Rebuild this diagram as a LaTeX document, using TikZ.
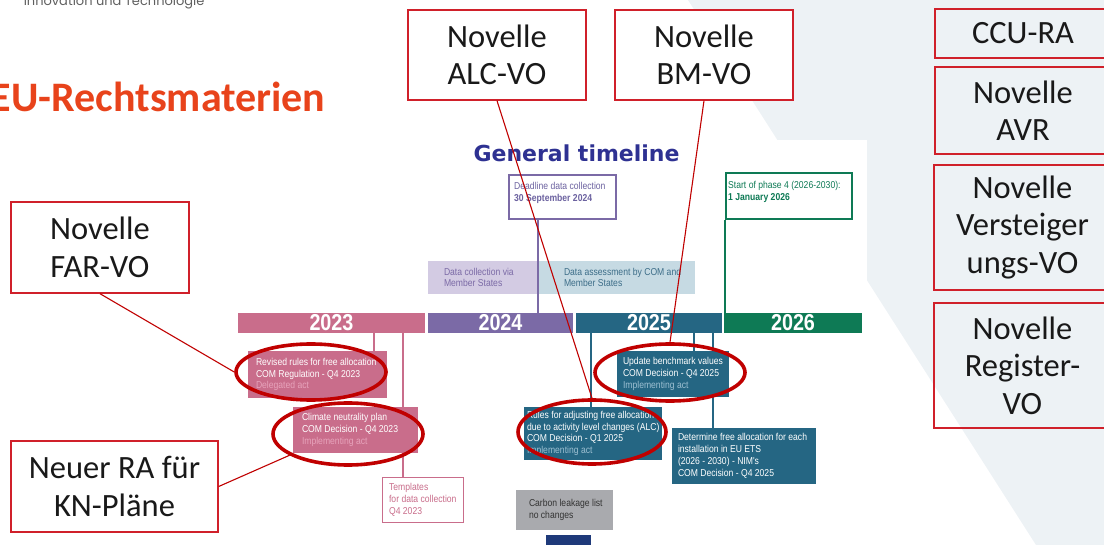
\documentclass[tikz,border=0pt]{standalone}
\usepackage{fontspec}
\setmainfont{Carlito}
\newfontfamily\tlfont[FakeStretch=0.86]{Liberation Sans}
\newfontfamily\headfont{DejaVu Sans}
\newfontfamily\topfont{Poppins}
\usepackage{xcolor}
\usetikzlibrary{shapes.geometric}

\definecolor{ringred}{HTML}{C00000}
\definecolor{boxred}{HTML}{D0202A}
\definecolor{titlered}{HTML}{E8431B}
\definecolor{topgrey}{HTML}{5F5F5F}
\definecolor{bgpale}{HTML}{EDF2F5}
\definecolor{tlblue}{HTML}{2E3192}
\definecolor{yr23}{HTML}{C96D8B}
\definecolor{yr24}{HTML}{7B6AA6}
\definecolor{yr24dark}{HTML}{6C62A0}
\definecolor{yr25}{HTML}{256683}
\definecolor{yr26}{HTML}{0E7A55}
\definecolor{lav}{HTML}{D3CBE3}
\definecolor{skyg}{HTML}{C6DAE3}
\definecolor{asstext}{HTML}{3C6D88}
\definecolor{leakgrey}{HTML}{A9AAAE}
\definecolor{navy}{HTML}{1F3A7A}
\definecolor{pinklt}{HTML}{E7A3BB}
\definecolor{bluelt}{HTML}{9DC0D2}

\begin{document}
\begin{tikzpicture}[x=1pt,y=-1pt,
  lawbox/.style={draw=boxred, line width=1.4pt, fill=white, align=center, inner sep=0pt,
    font=\fontsize{32.5}{37.5}\selectfont, text=black!90},
  sidebox/.style={lawbox, fill=none},
  redring/.style={ellipse, draw=ringred, line width=3.6pt, inner sep=0pt},
  redlink/.style={draw=ringred, line width=1.1pt},
  yearbar/.style={minimum height=20, inner sep=0pt, text=white,
    font=\tlfont\bfseries\fontsize{23}{23}\selectfont},
  tlbox/.style={inner sep=0pt},
  tltext/.style={inner sep=0pt, align=left, font=\tlfont\fontsize{10}{11.8}\selectfont},
  tlline/.style={line width=2pt}]

  \useasboundingbox (0,0) rectangle (1104,545);
  % slide background and the pasted timeline
  \fill[bgpale] (688,0) -- (1104,0) -- (1104,545) -- (1036,545) -- cycle;
  \fill[white] (230,140) rectangle (867,545);

  \node[anchor=base east, font=\topfont\fontsize{13}{13}\selectfont, text=topgrey] (ministry) at (208,6) {Innovation und Technologie};
  \node[anchor=base east, font=\bfseries\fontsize{42}{42}\selectfont, text=titlered] (heading) at (329,112) {EU-Rechtsmaterien};
  \node[anchor=base west, font=\headfont\bfseries\fontsize{22}{22}\selectfont, text=tlblue] (tltitle) at (470,162) {General timeline};

  % years
  \node[yearbar, fill=yr23, minimum width=187] (bar23) at (331.5,323) {2023};
  \node[yearbar, fill=yr24, minimum width=145] (bar24) at (500.5,323) {2024};
  \node[yearbar, fill=yr25, minimum width=146] (bar25) at (649,323) {2025};
  \node[yearbar, fill=yr26, minimum width=138] (bar26) at (793,323) {2026};

  % above the bars
  \node[tlbox, fill=lav, minimum width=111, minimum height=33] (collect) at (483.5,277.5) {};
  \node[tltext, text=yr24, anchor=west, xshift=16] (collecttxt) at (collect.west) {Data collection via\\Member States};
  \node[tlbox, fill=skyg, minimum width=156, minimum height=33] (assess) at (617,277.5) {};
  \node[tltext, text=asstext, anchor=west, xshift=25] (assesstxt) at (assess.west) {Data assessment by COM and\\Member States};

  \node[tlbox, draw=yr24, line width=2pt, fill=white, minimum width=107, minimum height=44] (deadline) at (562.5,197) {};
  \node[tltext, text=yr24dark, anchor=north west, xshift=6, yshift=-8] (deadlinetxt) at (deadline.north west) {Deadline data collection\\\textbf{30 September 2024}};
  \node[tlbox, draw=yr26, line width=2pt, fill=white, minimum width=126, minimum height=46] (phase) at (789,196) {};
  \node[tltext, text=yr26, anchor=north west, xshift=3, yshift=-9] (phasetxt) at (phase.north west) {Start of phase 4 (2026-2030):\\\textbf{1 January 2026}};

  \draw[tlline, yr24] (deadline.south west) ++(30,0) coordinate (dl) -- (dl |- bar24.north);
  \draw[tlline, yr26] (phase.south west) -- (phase.south west |- bar26.north);

  % below the bars
  \node[tlbox, fill=yr23, minimum width=139, minimum height=47] (revised) at (317.5,374.5) {};
  \node[tlbox, fill=yr23, minimum width=125, minimum height=46] (climate) at (355.5,430) {};
  \node[tlbox, draw=yr23, line width=1.2pt, fill=white, minimum width=81, minimum height=45] (templ) at (423,500) {};
  \node[tlbox, fill=yr25, minimum width=112, minimum height=46] (update) at (673,374) {};
  \node[tlbox, fill=yr25, minimum width=138, minimum height=53] (alc) at (593,433.5) {};
  \node[tlbox, fill=yr25, minimum width=144, minimum height=56] (determine) at (744,456) {};
  \node[tlbox, fill=leakgrey, minimum width=97, minimum height=40] (leak) at (564.5,510) {};
  \node[tlbox, fill=navy, minimum width=45, minimum height=20, anchor=north] (navyblock) at (568.5,535) {};

  \draw[tlline, yr23] (revised.north east) ++(-13,0) coordinate (r1) -- (r1 |- bar23.south);
  \draw[tlline, yr23] (templ.north west) ++(21,0) coordinate (t1) -- (t1 |- bar23.south);
  \draw[tlline, yr25] (alc.north west) ++(67,0) coordinate (a1) -- (a1 |- bar25.south);
  \draw[tlline, yr25] (update.north west) ++(77,0) coordinate (u1) -- (u1 |- bar25.south);
  \draw[tlline, yr25] (determine.north west) ++(41,0) coordinate (d2) -- (d2 |- bar25.south);

  \node[tltext, text=white, anchor=west, xshift=8] (revisedtxt) at (revised.west) {Revised rules for free allocation\\COM Regulation - Q4 2023\\\textcolor{pinklt}{Delegated act}};
  \node[tltext, text=white, anchor=west, xshift=9] (climatetxt) at (climate.west) {Climate neutrality plan\\COM Decision - Q4 2023\\\textcolor{pinklt}{Implementing act}};
  \node[tltext, text=yr23, anchor=west, xshift=7] (templtxt) at (templ.west) {Templates\\for data collection\\Q4 2023};
  \node[tltext, text=white, anchor=west, xshift=6] (updatetxt) at (update.west) {Update benchmark values\\COM Decision - Q4 2025\\\textcolor{bluelt}{Implementing act}};
  \node[tltext, text=white, anchor=west, xshift=3] (alctxt) at (alc.west) {Rules for adjusting free allocation\\due to activity level changes (ALC)\\COM Decision - Q1 2025\\\textcolor{bluelt}{Implementing act}};
  \node[tltext, text=white, anchor=west, xshift=6] (determinetxt) at (determine.west) {Determine free allocation for each\\installation in EU ETS\\(2026 - 2030) - NIM's\\COM Decision - Q4 2025};
  \node[tltext, text=black!80, anchor=west, xshift=13] (leaktxt) at (leak.west) {Carbon leakage list\\no changes};

  % red marks
  \node[redring, minimum width=150, minimum height=56] (ringfar) at (311,372) {};
  \node[redring, minimum width=150, minimum height=62] (ringkn) at (348,434) {};
  \node[redring, minimum width=150, minimum height=57] (ringbm) at (670,372.5) {};
  \node[redring, minimum width=148, minimum height=64] (ringalc) at (592,432) {};

  \node[lawbox, minimum width=178, minimum height=90] (alcvo) at (497,55) {Novelle\\ALC-VO};
  \node[lawbox, minimum width=178, minimum height=90] (bmvo) at (704,55) {Novelle\\BM-VO};
  \node[lawbox, minimum width=178, minimum height=91] (farvo) at (100,247.5) {Novelle\\FAR-VO};
  \node[lawbox, minimum width=207, minimum height=91] (knplan) at (114.5,486.5) {Neuer RA für\\KN-Pläne};

  \node[sidebox, minimum width=176, minimum height=49] (ccura) at (1023,33.5) {CCU-RA};
  \node[sidebox, minimum width=176, minimum height=87] (avr) at (1023,110.5) {Novelle\\AVR};
  \node[sidebox, minimum width=177, minimum height=125] (versteig) at (1022.5,227.5) {Novelle\\Versteiger\\ungs-VO};
  \node[sidebox, minimum width=177, minimum height=125] (register) at (1022.5,365.5) {Novelle\\Register-\\VO};

  \draw[redlink] (alcvo.south) -- (ringalc.north);
  \draw[redlink] (bmvo.south) -- (ringbm.north);
  \draw[redlink] (farvo.south) -- (ringfar.west);
  \draw[redlink] (knplan.east) -- (ringkn.200);
\end{tikzpicture}
\end{document}
